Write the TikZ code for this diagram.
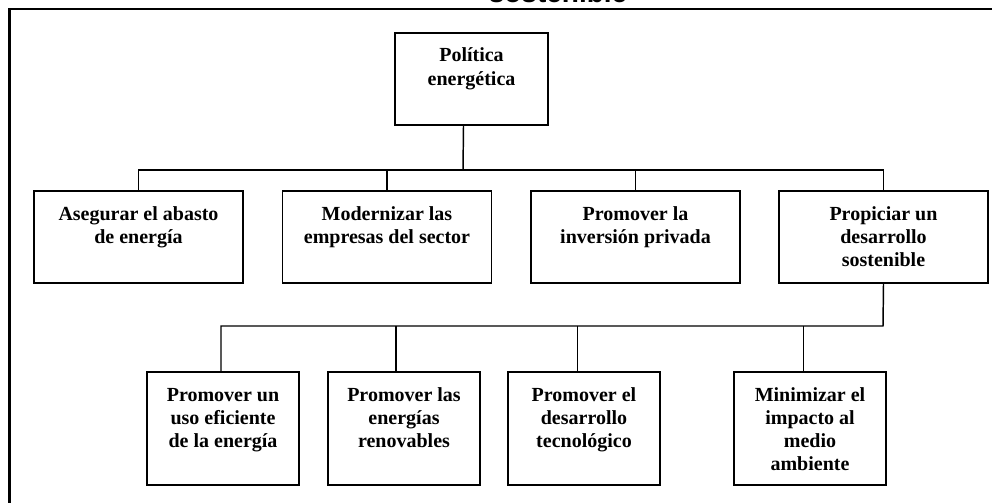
\documentclass[tikz,border=0pt]{standalone}
\usepackage{fontspec}
\setmainfont{Liberation Serif}
\newfontfamily\titlefont{Liberation Sans}
\usetikzlibrary{positioning}

\newcommand{\boxtext}[3]{\parbox[c][#2][t]{#1}{\centering\rule{0pt}{21.75pt}#3}}

\begin{document}
\begin{tikzpicture}[
    x=0.75pt, y=-0.75pt,
    box style/.style={draw=black, line width=1.2pt, fill=white, inner sep=0pt,
        font=\bfseries\fontsize{15}{17.25}\selectfont},
    link/.style={line width=1.1pt}
]
        \useasboundingbox (0,0) rectangle (992,503);
        \clip (0,0) rectangle (992,503);

        % cut title and outer frame
        \node[font=\titlefont\bfseries\fontsize{21}{24}\selectfont, anchor=base] (title) at (558,3) {sostenible};
        \draw[line width=2.2pt] (9.5,9) rectangle (1010,520);

        % top
        \node[box style] (pol) at (471.5,79) {\boxtext{114.75pt}{69pt}{Política\\energética}};

        % first level
        \node[box style] (b1) at (138.5,237) {\boxtext{156.75pt}{69pt}{Asegurar el abasto\\de energía}};
        \node[box style] (b2) at (387,237) {\boxtext{156.75pt}{69pt}{Modernizar las\\empresas del sector}};
        \node[box style] (b3) at (635.5,237) {\boxtext{156.75pt}{69pt}{Promover la\\inversión privada}};
        \node[box style] (b4) at (883.5,237) {\boxtext{156.75pt}{69pt}{Propiciar un\\desarrollo\\sostenible}};

        % second level
        \node[box style] (b5) at (223,428.5) {\boxtext{114pt}{84.75pt}{Promover un\\uso eficiente\\de la energía}};
        \node[box style] (b6) at (404,428.5) {\boxtext{114pt}{84.75pt}{Promover las\\energías\\renovables}};
        \node[box style] (b7) at (584,428.5) {\boxtext{114pt}{84.75pt}{Promover el\\desarrollo\\tecnológico}};
        \node[box style] (b8) at (810,428.5) {\boxtext{114pt}{84.75pt}{Minimizar el\\impacto al\\medio\\ambiente}};

        \coordinate (busA) at (463,170);
        \coordinate (busB) at (883,326);

        \draw[link] ([xshift=-6pt]pol.south) -- (busA);
        \draw[link] (b1.north) |- (busA) -| (b4.north);
        \draw[link] (b2.north) -- (b2.north |- busA);
        \draw[link] (b3.north) -- (b3.north |- busA);

        \draw[link] (b4.south) -- (busB) -| ([xshift=-1.5pt]b5.north);
        \draw[link] ([xshift=-6pt]b6.north) -- ([xshift=-6pt]b6.north |- busB);
        \draw[link] ([xshift=-5pt]b7.north) -- ([xshift=-5pt]b7.north |- busB);
        \draw[link] ([xshift=-5pt]b8.north) -- ([xshift=-5pt]b8.north |- busB);
    \end{tikzpicture}
\end{document}
